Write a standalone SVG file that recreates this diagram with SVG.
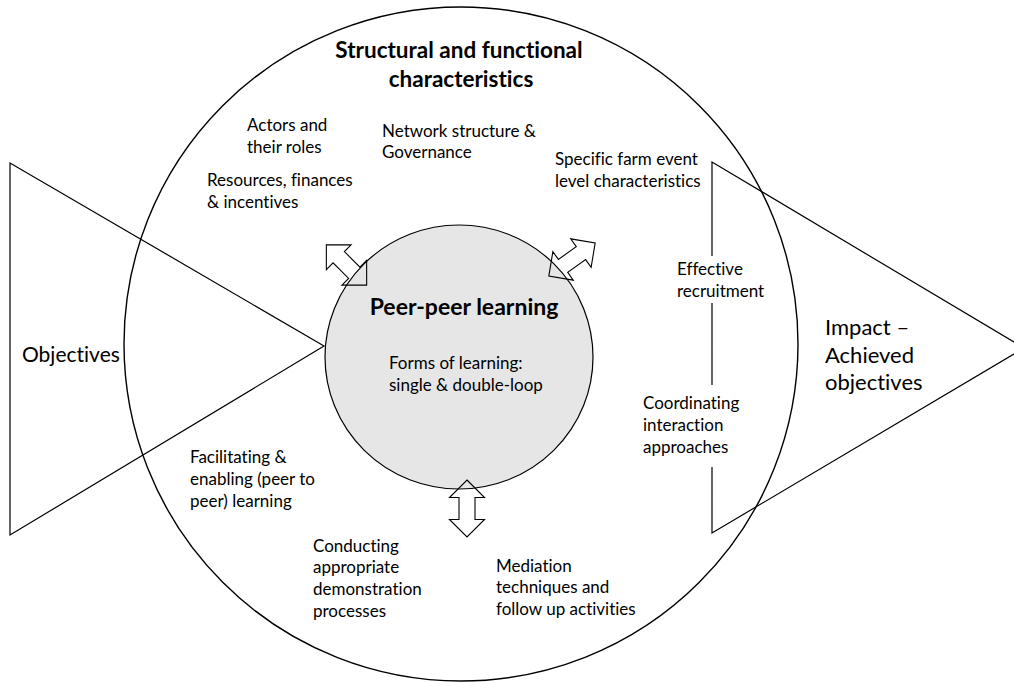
<svg xmlns="http://www.w3.org/2000/svg" width="1014" height="683" viewBox="0 0 1014 683">
  <style>
    .ln { fill: none; stroke: #000; stroke-width: 1.2; }
    .t { font-family: Lato, "Open Sans", "Liberation Sans", sans-serif; font-size: 17px; fill: #000; font-variant-ligatures: none; font-feature-settings: "liga" 0; }
    .big { font-size: 22px; }
    .obj { font-size: 21px; }
    .title { font-size: 22.5px; font-weight: bold; }
    .peer { font-size: 23px; font-weight: bold; }
    .mask { fill: #fff; stroke: none; }
    .arrow { fill: none; stroke: #000; stroke-width: 1.1; stroke-linejoin: miter; }
  </style>
  <defs>
    <path id="dbl" d="M -28.5 0 L -11 -17.5 L -11 -8 L 11 -8 L 11 -17.5 L 28.5 0 L 11 17.5 L 11 8 L -11 8 L -11 17.5 Z"/>
  </defs>
  <rect width="1014" height="683" fill="#fff"/>

  <g id="outer-circle">
    <circle class="ln" cx="461" cy="344" r="337" style="stroke-width:1.4"/>
    <text class="t title" text-anchor="middle" x="459" y="58">Structural and functional</text>
    <text class="t title" text-anchor="middle" x="461" y="87">characteristics</text>
  </g>

  <g id="objectives">
    <polygon class="ln" points="10,163 10,535 324,346"/>
    <text class="t obj" x="22" y="362">Objectives</text>
  </g>

  <g id="impact">
    <polygon class="ln" points="712,162 712,533 1024,348"/>
    <text class="t big" x="825" y="335">Impact –</text>
    <text class="t big" x="825" y="363">Achieved</text>
    <text class="t big" x="825" y="390">objectives</text>
  </g>

  <g id="actors">
    <text class="t" x="247" y="131">Actors and</text>
    <text class="t" x="247" y="153">their roles</text>
  </g>
  <g id="resources">
    <text class="t" x="207" y="186">Resources, finances</text>
    <text class="t" x="207" y="208">&amp; incentives</text>
  </g>
  <g id="network">
    <text class="t" x="382" y="137">Network structure &amp;</text>
    <text class="t" x="382" y="158">Governance</text>
  </g>
  <g id="farm-event">
    <text class="t" x="555" y="165">Specific farm event</text>
    <text class="t" x="555" y="187">level characteristics</text>
  </g>
  <g id="recruitment">
    <rect class="mask" x="672" y="256" width="96" height="47"/>
    <text class="t" x="677" y="275">Effective</text>
    <text class="t" x="677" y="297">recruitment</text>
  </g>
  <g id="coordinating">
    <rect class="mask" x="638" y="385" width="102" height="82"/>
    <text class="t" x="643" y="409">Coordinating</text>
    <text class="t" x="643" y="431">interaction</text>
    <text class="t" x="643" y="453">approaches</text>
  </g>
  <g id="facilitating">
    <text class="t" x="190" y="463">Facilitating &amp;</text>
    <text class="t" x="190" y="485">enabling (peer to</text>
    <text class="t" x="190" y="507">peer) learning</text>
  </g>
  <g id="conducting">
    <text class="t" x="313" y="552">Conducting</text>
    <text class="t" x="313" y="573">appropriate</text>
    <text class="t" x="313" y="595">demonstration</text>
    <text class="t" x="313" y="617">processes</text>
  </g>
  <g id="mediation">
    <text class="t" x="496" y="572">Mediation</text>
    <text class="t" x="496" y="593">techniques and</text>
    <text class="t" x="496" y="615">follow up activities</text>
  </g>

  <g id="peer-learning">
    <ellipse cx="459" cy="357" rx="134" ry="132" style="fill:#e6e6e6;stroke:#000;stroke-width:1.2"/>
    <text class="t peer" text-anchor="middle" x="464" y="315">Peer-peer learning</text>
    <text class="t" x="389" y="369">Forms of learning:</text>
    <text class="t" x="389" y="391">single &amp; double-loop</text>
  </g>

  <g id="connectors">
    <use href="#dbl" class="arrow" transform="translate(346.5 265) rotate(45)"/>
    <use href="#dbl" class="arrow" transform="translate(572 259.5) rotate(-35.6)"/>
    <use href="#dbl" class="arrow" transform="translate(467 508.5) rotate(90)"/>
  </g>
</svg>
